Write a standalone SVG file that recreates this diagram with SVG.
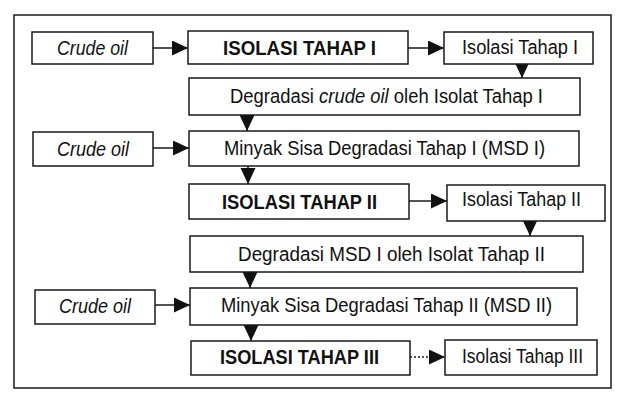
<svg xmlns="http://www.w3.org/2000/svg" width="626" height="411" viewBox="0 0 626 411">
<style>
.b{fill:#fff;stroke:#1a1a1a;stroke-width:1.5}
.t{font-family:"Liberation Sans",Arial,sans-serif;font-size:19.5px;fill:#111;text-anchor:start}
.i{font-style:italic}
.bd{font-weight:bold}
.c{stroke:#1a1a1a;stroke-width:1.5;fill:none}
.d{stroke-dasharray:2 2}
</style>
<defs>
<marker id="ah" markerUnits="userSpaceOnUse" markerWidth="17" markerHeight="16" refX="16" refY="7.5" orient="auto">
<path d="M0,0 L16,7.5 L0,15 z" fill="#111"/>
</marker>
</defs>
<rect width="626" height="411" fill="#fff"/>
<rect x="14" y="15" width="597" height="373" fill="none" stroke="#1a1a1a" stroke-width="1.5"/>

<g id="connectors">
<line class="c" x1="153" y1="48" x2="188" y2="48" marker-end="url(#ah)"/>
<line class="c" x1="408" y1="48" x2="444" y2="48" marker-end="url(#ah)"/>
<line class="c" x1="522" y1="64" x2="522" y2="78" marker-end="url(#ah)"/>
<line class="c" x1="247" y1="115" x2="247" y2="131" marker-end="url(#ah)"/>
<line class="c" x1="153" y1="148" x2="189" y2="148" marker-end="url(#ah)"/>
<line class="c" x1="248" y1="166" x2="248" y2="184" marker-end="url(#ah)"/>
<line class="c" x1="409" y1="201" x2="447" y2="201" marker-end="url(#ah)"/>
<line class="c" x1="530" y1="221" x2="530" y2="236" marker-end="url(#ah)"/>
<line class="c" x1="250" y1="272" x2="250" y2="288" marker-end="url(#ah)"/>
<line class="c" x1="155" y1="305" x2="190" y2="305" marker-end="url(#ah)"/>
<line class="c" x1="251" y1="325" x2="251" y2="341" marker-end="url(#ah)"/>
<line class="c d" x1="410" y1="357" x2="445" y2="357" marker-end="url(#ah)"/>
</g>

<g id="crude1"><rect class="b" x="32" y="32" width="121" height="32"/><text class="t i" x="57" y="55" textLength="71" lengthAdjust="spacingAndGlyphs">Crude oil</text></g>
<g id="iso1"><rect class="b" x="188" y="31" width="220" height="33"/><text class="t bd" x="223" y="55" textLength="153" lengthAdjust="spacingAndGlyphs">ISOLASI TAHAP I</text></g>
<g id="isolat1"><rect class="b" x="444" y="32" width="149" height="32"/><text class="t" x="462" y="54" textLength="116" lengthAdjust="spacingAndGlyphs">Isolasi Tahap I</text></g>
<g id="deg1"><rect class="b" x="189" y="78" width="391" height="37"/><text class="t" x="230" y="103" textLength="313" lengthAdjust="spacingAndGlyphs">Degradasi <tspan class="i">crude oil</tspan> oleh Isolat Tahap I</text></g>
<g id="crude2"><rect class="b" x="33" y="132" width="120" height="34"/><text class="t i" x="57" y="156" textLength="72" lengthAdjust="spacingAndGlyphs">Crude oil</text></g>
<g id="msd1"><rect class="b" x="189" y="131" width="390" height="35"/><text class="t" x="224" y="155" textLength="321" lengthAdjust="spacingAndGlyphs">Minyak Sisa Degradasi Tahap I (MSD I)</text></g>
<g id="iso2"><rect class="b" x="189" y="184" width="220" height="35"/><text class="t bd" x="222" y="209" textLength="155" lengthAdjust="spacingAndGlyphs">ISOLASI TAHAP II</text></g>
<g id="isolat2"><rect class="b" x="447" y="185" width="158" height="36"/><text class="t" x="462" y="206" textLength="119" lengthAdjust="spacingAndGlyphs">Isolasi Tahap II</text></g>
<g id="deg2"><rect class="b" x="190" y="236" width="393" height="36"/><text class="t" x="238" y="261" textLength="307" lengthAdjust="spacingAndGlyphs">Degradasi MSD I oleh Isolat Tahap II</text></g>
<g id="crude3"><rect class="b" x="35" y="290" width="120" height="34"/><text class="t i" x="59" y="313" textLength="72" lengthAdjust="spacingAndGlyphs">Crude oil</text></g>
<g id="msd2"><rect class="b" x="190" y="288" width="387" height="37"/><text class="t" x="221" y="312" textLength="331" lengthAdjust="spacingAndGlyphs">Minyak Sisa Degradasi Tahap II (MSD II)</text></g>
<g id="iso3"><rect class="b" x="191" y="341" width="219" height="34"/><text class="t bd" x="220" y="364" textLength="159" lengthAdjust="spacingAndGlyphs">ISOLASI TAHAP III</text></g>
<g id="isolat3"><rect class="b" x="445" y="340" width="152" height="35"/><text class="t" x="462" y="363" textLength="121" lengthAdjust="spacingAndGlyphs">Isolasi Tahap III</text></g>
</svg>
